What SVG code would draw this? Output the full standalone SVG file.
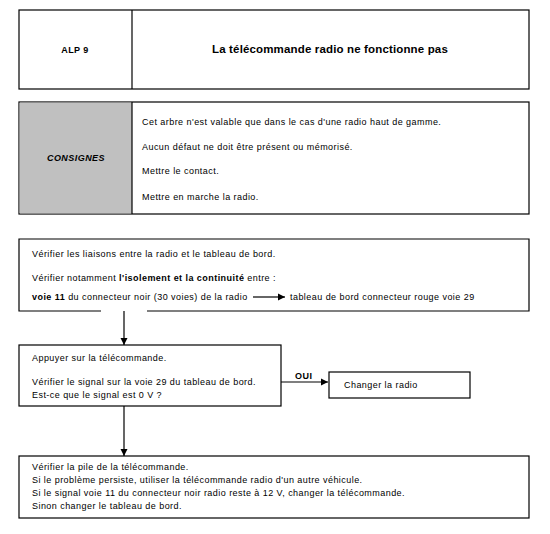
<svg xmlns="http://www.w3.org/2000/svg" width="550" height="534" viewBox="0 0 550 534">
<style>
.box{fill:#fff;stroke:#000;stroke-width:1.2}
.ln{fill:none;stroke:#000;stroke-width:1.2}
.t{font-family:"Liberation Sans",Arial,sans-serif;font-size:9px;letter-spacing:0.45px;fill:#000}
.b{font-weight:bold}
.title{font-family:"Liberation Sans",Arial,sans-serif;font-size:11.5px;letter-spacing:0.15px;font-weight:bold;fill:#000}
</style>
<defs>
<marker id="ah" markerWidth="8" markerHeight="8" refX="7" refY="4" orient="auto" markerUnits="userSpaceOnUse">
<path d="M0,0.5 L7,4 L0,7.5 Z" fill="#000"/>
</marker>
</defs>
<rect width="550" height="534" fill="#fff"/>
<g id="header">
<rect class="box" x="19" y="10" width="510" height="79"/>
<line class="ln" x1="132" y1="10" x2="132" y2="89"/>
<text class="t b" x="75" y="53" text-anchor="middle" letter-spacing="0.2">ALP 9</text>
<text class="title" x="330" y="53" text-anchor="middle">La télécommande radio ne fonctionne pas</text>
</g>
<g id="consignes">
<rect class="box" x="19" y="102" width="510" height="112"/>
<rect x="19.6" y="102.6" width="112.4" height="110.8" fill="#c0c0c0"/>
<line class="ln" x1="132" y1="102" x2="132" y2="214"/>
<text class="t b" x="76" y="161" text-anchor="middle" font-style="italic" letter-spacing="0.3">CONSIGNES</text>
<text class="t" x="142" y="125">Cet arbre n'est valable que dans le cas d'une radio haut de gamme.</text>
<text class="t" x="142" y="150">Aucun défaut ne doit être présent ou mémorisé.</text>
<text class="t" x="142" y="174">Mettre le contact.</text>
<text class="t" x="142" y="200">Mettre en marche la radio.</text>
</g>
<g id="verifier-liaisons">
<path class="ln" d="M101,311 H19 V239 H529 V311 H147"/>
<text class="t" x="32" y="257">Vérifier les liaisons entre la radio et le tableau de bord.</text>
<text class="t" x="32" y="281">Vérifier notamment <tspan class="b">l'isolement et la continuité</tspan> entre :</text>
<text class="t" x="32" y="300"><tspan class="b">voie 11</tspan> du connecteur noir (30 voies) de la radio</text>
<line class="ln" x1="253" y1="297" x2="285" y2="297" marker-end="url(#ah)"/>
<text class="t" x="290" y="300">tableau de bord connecteur rouge voie 29</text>
</g>
<g id="appuyer">
<rect class="box" x="19" y="345" width="262" height="61"/>
<text class="t" x="32" y="361">Appuyer sur la télécommande.</text>
<text class="t" x="32" y="385">Vérifier le signal sur la voie 29 du tableau de bord.</text>
<text class="t" x="32" y="398">Est-ce que le signal est 0 V ?</text>
</g>
<g id="changer-radio">
<rect class="box" x="329" y="372" width="141" height="26"/>
<text class="t" x="344" y="388">Changer la radio</text>
</g>
<g id="verifier-pile">
<rect class="box" x="19" y="456" width="510" height="62"/>
<text class="t" x="32" y="470">Vérifier la pile de la télécommande.</text>
<text class="t" x="32" y="483">Si le problème persiste, utiliser la télécommande radio d'un autre véhicule.</text>
<text class="t" x="32" y="496">Si le signal voie 11 du connecteur noir radio reste à 12 V, changer la télécommande.</text>
<text class="t" x="32" y="509">Sinon changer le tableau de bord.</text>
</g>
<g id="connectors">
<line class="ln" x1="124" y1="311" x2="124" y2="345" marker-end="url(#ah)"/>
<line class="ln" x1="281" y1="382" x2="328" y2="382" marker-end="url(#ah)"/>
<text class="t b" x="295" y="379" letter-spacing="0.2">OUI</text>
<line class="ln" x1="124" y1="406" x2="124" y2="456" marker-end="url(#ah)"/>
</g>
</svg>
